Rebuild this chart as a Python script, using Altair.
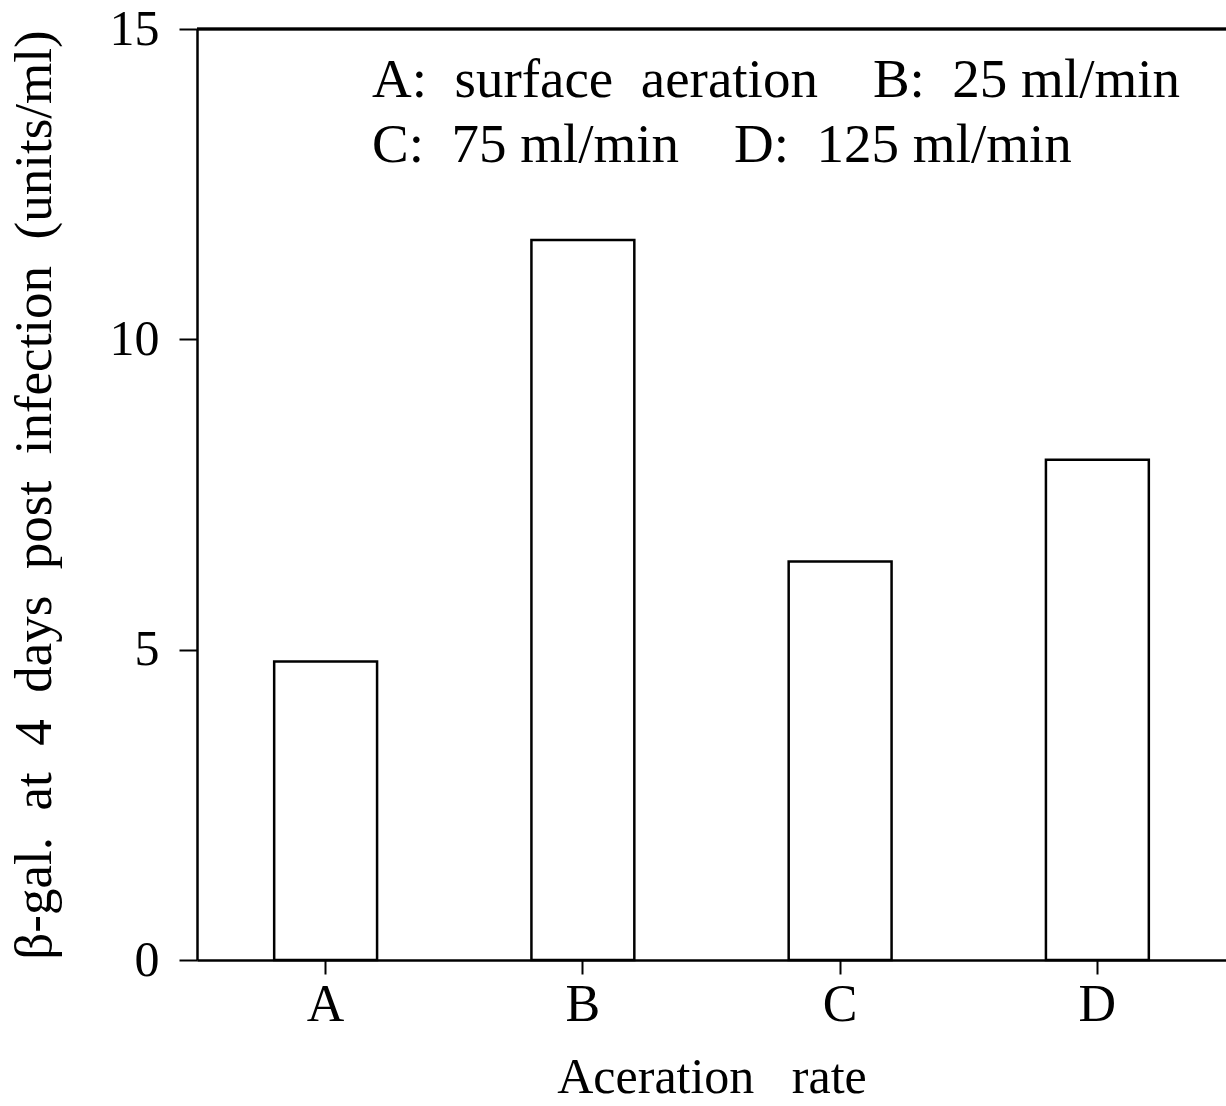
import altair as alt
import pandas as pd

categories = ["A", "B", "C", "D"]
values = [4.81, 11.6, 6.42, 8.06]
y_ticks = [0, 5, 10, 15]
NB = "\u00a0"
legend_lines = [
    "A:" + NB * 2 + "surface" + NB * 2 + "aeration" + NB * 4 + "B:" + NB * 2 + "25" + NB + "ml/min",
    "C:" + NB * 2 + "75" + NB + "ml/min" + NB * 4 + "D:" + NB * 2 + "125" + NB + "ml/min",
]
x_title = "Aceration" + NB * 3 + "rate"
y_title = (
    "β-gal." + NB * 2 + "at" + NB * 2 + "4" + NB * 2 + "days" + NB * 2
    + "post" + NB * 2 + "infection" + NB * 2 + "(units/ml)"
)

FONT = "Liberation Serif"

df = pd.DataFrame({"cat": categories, "val": values})
leg = pd.DataFrame({"text": legend_lines, "row": [0, 1]})

x = alt.X(
    "cat:N",
    sort=categories,
    scale=alt.Scale(paddingInner=0.6, paddingOuter=0.3),
    axis=alt.Axis(
        title=x_title,
        labelAngle=0,
        tickSize=14,
        tickWidth=2,
        domainWidth=2.5,
        domainColor="black",
        tickColor="black",
        labelFontSize=52,
        labelFont=FONT,
        labelColor="black",
        labelPadding=5,
        titleFont=FONT,
        titleFontSize=50,
        titleFontWeight="normal",
        titleColor="black",
        titlePadding=22,
    ),
)

y = alt.Y(
    "val:Q",
    scale=alt.Scale(domain=[0, 15], nice=False),
    axis=alt.Axis(
        title=y_title,
        values=y_ticks,
        grid=False,
        tickSize=18,
        tickWidth=2,
        domainWidth=2.5,
        domainColor="black",
        tickColor="black",
        labelFontSize=50,
        labelFont=FONT,
        labelColor="black",
        labelPadding=20,
        titleFont=FONT,
        titleFontSize=53,
        titleFontWeight="normal",
        titleColor="black",
        titlePadding=48,
    ),
)

bars = alt.Chart(df).mark_bar(
    fill="white", stroke="black", strokeWidth=2.5
).encode(x=x, y=y)

top_line = alt.Chart(df).mark_rule(color="black", strokeWidth=2.5).encode(
    y=alt.datum(15)
)

legend = alt.Chart(leg).mark_text(
    align="left", baseline="alphabetic", font=FONT, fontSize=55, color="black"
).encode(
    x=alt.value(175),
    y=alt.Y("row:Q", scale=alt.Scale(domain=[0, 1], range=[68, 133]), axis=None),
    text="text:N",
)

chart = (
    alt.layer(bars, top_line, legend)
    .resolve_scale(y="independent")
    .properties(
        width=1029,
        height=931,
        autosize=alt.AutoSizeParams(type="none"),
        padding={"left": 197, "top": 29, "right": 0, "bottom": 146},
    )
    .configure_view(stroke=None)
)

chart.save("out.html", embed_options={"renderer": "svg", "actions": False})
